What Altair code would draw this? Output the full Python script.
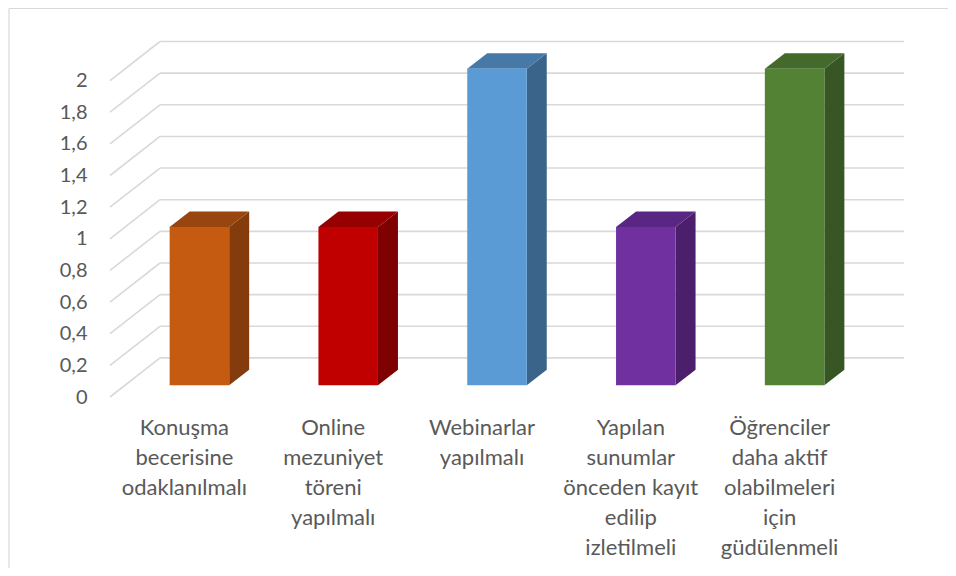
import altair as alt
import pandas as pd

# ---- data ----
categories = [
    "Konuşma\nbecerisine\nodaklanılmalı",
    "Online\nmezuniyet\ntöreni\nyapılmalı",
    "Webinarlar\nyapılmalı",
    "Yapılan\nsunumlar\nönceden kayıt\nedilip\nizletilmeli",
    "Öğrenciler\ndaha aktif\nolabilmeleri\niçin\ngüdülenmeli",
]
values = [1, 1, 2, 1, 2]
front_colors = ["#C55A11", "#C00000", "#5B9BD5", "#7030A0", "#548235"]
top_colors = ["#984510", "#960000", "#4779A8", "#592683", "#436A2A"]
side_colors = ["#843C0C", "#7F0000", "#3A6489", "#4B1F6B", "#375623"]
y_ticks = [0, 0.2, 0.4, 0.6, 0.8, 1.0, 1.2, 1.4, 1.6, 1.8, 2.0]

# ---- 3D projection settings (depth in axis units) ----
DX = 0.336   # depth shift along x (category units)
DY = 0.247   # depth shift along y (value units)
HALF = 0.2   # half bar width (category units)
D0, D1 = 0.3, 0.7  # bar depth span (fraction of full depth)
N = len(categories)
YMAX = 2 + DY
XMAX = N + DX

W, H = 794, 355.5
PAD = {"left": 102, "top": 33.5, "right": 44, "bottom": 171}

front_rows, side_rows, top_rows, grid_rows, label_rows = [], [], [], [], []
for i, (c, v) in enumerate(zip(categories, values)):
    xl = i + 0.5 - HALF + D0 * DX
    xr = i + 0.5 + HALF + D0 * DX
    front_rows.append({"cat": c, "x": xl, "x2": xr, "y": D0 * DY, "y2": v + D0 * DY, "col": front_colors[i]})
    bd = (D1 - D0)
    side_rows.append({"cat": c, "x": xr, "ylo": D0 * DY, "yhi": v + D0 * DY, "col": side_colors[i]})
    side_rows.append({"cat": c, "x": xr + bd * DX, "ylo": D1 * DY, "yhi": v + D1 * DY, "col": side_colors[i]})
    top_rows.append({"cat": c, "y": v + D0 * DY, "xl": xl, "xr": xr, "col": top_colors[i]})
    top_rows.append({"cat": c, "y": v + D1 * DY, "xl": xl + bd * DX, "xr": xr + bd * DX, "col": top_colors[i]})
    label_rows.append({"x": i + 0.5, "label": c})

for g in y_ticks:
    grid_rows.append({"x": 0, "x2": DX, "y": g, "y2": g + DY})
    grid_rows.append({"x": DX, "x2": N + DX, "y": g + DY, "y2": g + DY})

front = pd.DataFrame(front_rows)
side = pd.DataFrame(side_rows)
top = pd.DataFrame(top_rows)
grid = pd.DataFrame(grid_rows)
labels = pd.DataFrame(label_rows)

xs = alt.Scale(domain=[0, XMAX], nice=False, zero=False)
ys = alt.Scale(domain=[0, YMAX], nice=False, zero=False)
FONT = "Lato"
TXT = "#595959"

y_axis = alt.Axis(
    values=y_ticks, title=None, domain=False, ticks=False, grid=False,
    labelOverlap=False, labelSeparation=0,
    labelExpr="replace(format(datum.value, '.1~f'), '.', ',')",
    labelFont=FONT, labelFontSize=20, labelColor=TXT, labelPadding=23,
)

grid_layer = alt.Chart(grid).mark_rule(color="#D9D9D9", strokeWidth=1.6).encode(
    x=alt.X("x:Q", scale=xs, axis=None),
    x2="x2:Q",
    y=alt.Y("y:Q", scale=ys, axis=y_axis),
    y2="y2:Q",
)

side_layer = alt.Chart(side).mark_area(orient="vertical").encode(
    x=alt.X("x:Q", scale=xs, axis=None),
    y=alt.Y("yhi:Q", scale=ys, axis=y_axis),
    y2="ylo:Q",
    detail="cat:N",
    fill=alt.Fill("col:N", scale=None),
)

top_layer = alt.Chart(top).mark_area(orient="horizontal").encode(
    y=alt.Y("y:Q", scale=ys, axis=y_axis),
    x=alt.X("xl:Q", scale=xs, axis=None),
    x2="xr:Q",
    detail="cat:N",
    fill=alt.Fill("col:N", scale=None),
)

front_layer = alt.Chart(front).mark_bar().encode(
    x=alt.X("x:Q", scale=xs, axis=None),
    x2="x2:Q",
    y=alt.Y("y:Q", scale=ys, axis=y_axis),
    y2="y2:Q",
    fill=alt.Fill("col:N", scale=None),
)

label_layer = alt.Chart(labels).mark_text(
    font=FONT, fontSize=22, color=TXT, lineBreak="\n", lineHeight=30,
    align="center", baseline="alphabetic",
).encode(
    x=alt.X("x:Q", scale=xs, axis=None),
    y=alt.value(H + 37.5),
    text="label:N",
)

frame_df = pd.DataFrame({"k": [0]})
frame_left = alt.Chart(frame_df).mark_rule(color="#D9D9D9", strokeWidth=1.2).encode(
    x=alt.value(-101), y=alt.value(-33), y2=alt.value(H + 171)
)
frame_top = alt.Chart(frame_df).mark_rule(color="#D9D9D9", strokeWidth=1.2).encode(
    x=alt.value(-101), x2=alt.value(W + 44), y=alt.value(-33)
)

chart = alt.layer(
    grid_layer, side_layer, top_layer, front_layer, label_layer, frame_left, frame_top
).properties(
    width=W, height=H, padding=PAD, autosize=alt.AutoSizeParams(type="none")
).configure(background="white").configure_view(strokeWidth=0).configure_axis(labelOverlap=False)

chart.save("out.html", embed_options={"renderer": "svg", "actions": False})
